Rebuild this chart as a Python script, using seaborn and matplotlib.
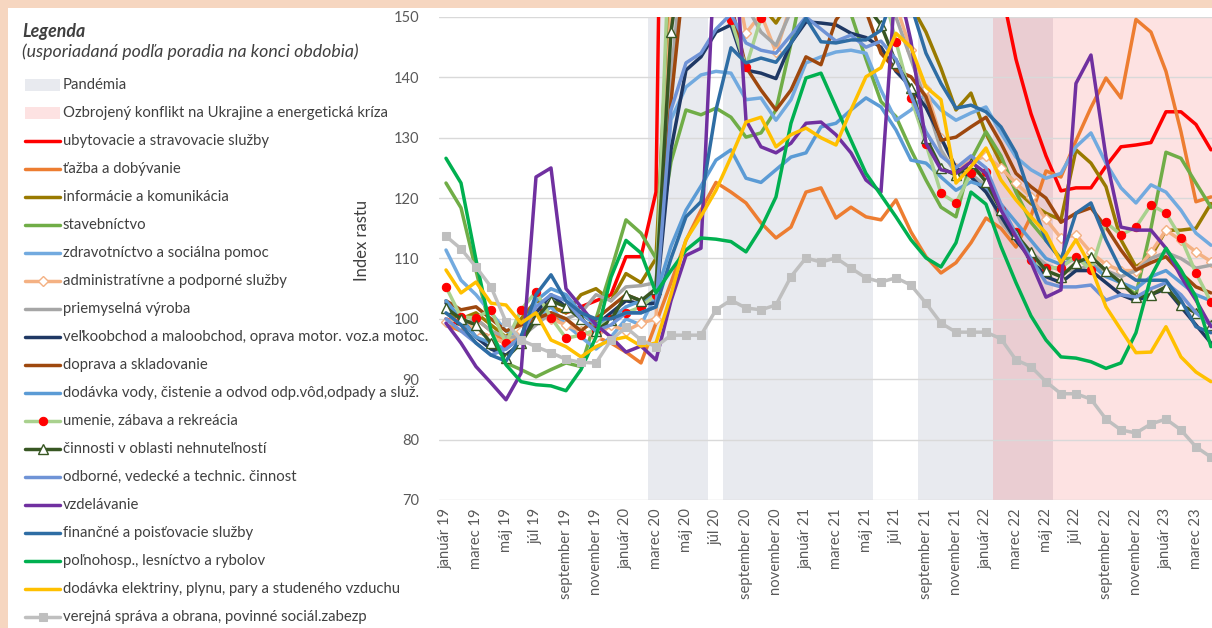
import matplotlib
matplotlib.use('Agg')
import matplotlib.pyplot as plt
import seaborn as sns
import numpy as np
import pandas as pd
from matplotlib.lines import Line2D
from matplotlib.patches import Rectangle

# data
month_names = ['január', 'február', 'marec', 'apríl', 'máj', 'jún', 'júl', 'august',
               'september', 'október', 'november', 'december']
years = ['19', '20', '21', '22', '23']
months = [month_names[i % 12] + ' ' + years[i // 12] for i in range(52)]

ubytovacie = [100, 99, 98, 97, 96, 97, 101, 102, 101, 102, 103, 104, 110.3, 110.3,
              121, 290, 280, 260, 230, 200, 190, 185, 200, 210, 220, 230, 220, 210, 200, 195, 190, 185, 180, 175, 180, 175,
              168, 155, 143, 134, 127, 121.2, 121.7, 121.7, 125.3, 128.5, 128.8, 129.2, 134.3, 134.3, 132.2, 128]
tazba = [99, 98, 100, 98, 96, 97, 100, 101, 99, 98, 97, 96, 94.5, 92.7,
         99.3, 106, 113, 118, 122.6, 121.0, 119.2, 115.9, 113.4, 115.2, 121.0, 121.7, 116.7, 118.5, 116.9, 116.4, 119.7, 114.4, 110.3, 107.6, 109.3, 112.6,
         116.7, 115.0, 111.9, 117, 124.5, 123.5, 129.5, 135, 139.9, 136.6, 149.6, 147.5, 141, 131, 119.4, 120.2]
informacie = [101, 100, 101, 99, 97, 100, 103, 102, 101, 104, 105, 103, 107.5, 106,
              110, 160, 175, 170, 165, 160, 155, 152, 149, 153, 165, 165, 162, 160, 158, 160, 158, 152, 147.5, 141.5, 134.6, 137.4,
              130.7, 125.8, 121.3, 119.1, 117.5, 116.4, 128, 125.8, 121.9, 113.1, 108.6, 110.3, 114.7, 114.7, 115, 119.1]
stavebnictvo = [122.5, 118.4, 108, 98, 92.7, 91.6, 90.4, 91.6, 92.7, 92.1, 100, 108, 116.4, 114.2,
                110, 126, 134.6, 133.8, 134.9, 133.4, 130.1, 130.8, 134.6, 145.6, 158, 160, 158, 150.5, 143, 136, 133.5, 128, 123, 118.5, 116.9, 126.3,
                131, 127, 121, 116, 113, 110, 110, 109, 108, 106, 104, 115, 127.6, 126.6, 122.5, 118.5]
zdravotnictvo = [111.4, 106.4, 104, 101, 98, 97, 100, 102, 99, 97, 95, 97, 100, 99,
                 104, 133, 138.4, 140.4, 141, 140.7, 136.3, 136.6, 132.9, 136.3, 142.4, 143.4, 144.2, 144.5, 144.0, 137.9, 132.9, 134.6, 137.4, 134.6, 132.9, 134.1,
                 135.1, 130.8, 126.8, 124.7, 123.3, 124.1, 128.5, 130.8, 125.8, 121.7, 119.2, 122.2, 121.0, 118.0, 114.2, 112.2]
administrativne = [99.5, 100, 98, 97, 96, 98, 101, 100, 99, 98, 97, 99, 98, 99.3,
                   100, 152, 170, 170, 165, 160, 147.3, 150.5, 144.2, 152, 160, 162, 160, 158, 156, 154, 152, 144.5, 138, 130, 125, 126,
                   127, 125.0, 122.5, 120.2, 116.5, 113.4, 113.9, 111, 109, 108, 108, 111, 114.7, 113, 111.1, 109.5]
priemyselna = [101, 99, 100, 98, 97, 97, 99, 101, 100, 101, 104, 103, 105.3, 105.5,
               106, 140, 165, 165, 160, 158, 152, 147.5, 145.3, 151, 160, 162, 160, 158, 160, 158, 150, 143, 136, 128, 124, 124,
               122, 116, 113, 111, 109, 108, 108, 109, 108, 107, 108, 110, 111, 110, 108.4, 108.9]
velkoobchod = [102.6, 100, 97, 95, 94, 96, 101, 104, 102, 101, 99, 101, 103, 102.5,
               102.6, 128, 141.2, 143.4, 147.5, 148.7, 141.2, 140.7, 139.8, 145.7, 149.2, 149, 148.7, 147.3, 146.6, 145.0, 141, 138.4, 135, 130, 125, 123.5,
               121, 117, 113, 110, 107, 106, 108, 108, 106, 104, 103, 104, 105, 102, 99, 96]
doprava = [103, 101.5, 102, 100, 98, 99, 100, 101, 100, 98, 100, 102, 104, 103,
           104, 136, 160, 165, 160, 152, 141.7, 137.9, 134.6, 137.9, 143.4, 142.1, 149.5, 153, 151, 144.0, 141.2, 140.1, 136.8, 129.6, 130.1, 131.8,
           133.4, 129.1, 124.1, 121.9, 120.0, 116.0, 117.5, 118.4, 115.2, 111.4, 108.1, 109.3, 110.3, 107.6, 105.3, 104.3]
dodavka_vody = [103, 100, 97, 96, 95, 97, 103, 105, 104, 101, 99, 100, 102, 103,
                104, 112, 118, 122, 126.3, 128, 123.3, 122.6, 124.7, 126.8, 127.5, 131.8, 132.4, 134.6, 136.6, 135.1, 131.3, 126.3, 125.8, 123.5, 121.3, 122.7,
                121.9, 119, 116, 113, 110, 109, 110, 109, 107, 106, 105, 107, 108, 106, 104, 103]
umenie = [105.3, 100.3, 100.2, 101.5, 96, 101.5, 104.5, 100.2, 96.8, 97.3, 98.2, 100, 101, 102,
          104, 170, 165, 160, 155, 149.5, 141.7, 149.8, 153, 160, 165, 165, 162, 160, 158, 156, 145.9, 136.6, 129, 120.8, 119.2, 124.1,
          124.3, 118, 114.4, 109.8, 108.4, 108.5, 110.3, 108.1, 116.0, 113.9, 115.2, 118.9, 117.5, 113.4, 107.6, 102.8]
cinnosti = [101.8, 100, 99.0, 96, 93.5, 96, 100, 103, 102, 100, 98, 99.8, 104.0, 103,
            105, 147.5, 165, 165, 162, 160, 158, 158, 160, 162, 165, 165, 162, 158, 152, 148.7, 142.4, 138.2, 130.0, 125.0, 123.8, 125.8,
            122.7, 118.0, 114, 111, 108, 107, 109.3, 110.3, 108, 106, 103.6, 104, 105.3, 102.3, 101, 99]
odborne = [100, 98, 96, 94, 95, 97, 102, 104, 103, 100, 98, 99, 101, 101,
           102, 134.6, 142.4, 144.0, 148, 150.5, 145.7, 144.5, 144.0, 147, 150, 148, 146, 147, 145, 146, 143, 137, 131, 127, 125, 127,
           125, 119, 114, 110, 106, 105.3, 105.3, 105.6, 103.1, 104, 103.6, 105, 106, 104, 101, 99]
vzdelavanie = [99.3, 96.0, 92.1, 89.4, 86.6, 91.0, 123.5, 125.0, 105, 102, 99, 97, 94.5, 95.5,
               93.2, 103, 110.5, 111.7, 165, 172, 132.9, 128.5, 127.5, 129.1, 132.4, 132.6, 130.5, 127.5, 123.0, 121.0, 157, 146, 129.1, 124.7, 124.1, 126.0,
               124.1, 118, 113.6, 109.4, 103.6, 104.8, 139.0, 143.7, 126.8, 115.2, 114.7, 114.7, 111.7, 107.0, 103.1, 98.7]
financne = [101, 99, 96, 94, 93, 97, 104, 107.3, 103, 101, 100, 100, 101, 101,
            102, 110, 116.9, 119.4, 134.6, 144.9, 142.4, 143.2, 142.5, 145.7, 149.8, 145.9, 145.7, 146.2, 146.2, 147.8, 155, 152, 144, 139, 134.9, 135.4,
            134.3, 131.8, 127.5, 120, 113, 109.8, 117.5, 119.2, 113.1, 108.1, 106.4, 106.4, 106.4, 103.1, 98.7, 97.7]
polnohosp = [126.6, 122.5, 109.8, 98, 92.4, 89.6, 89.1, 88.9, 88.1, 91.6, 97, 106.9, 113, 110.9,
             104.3, 108, 111.4, 113.4, 113.2, 112.8, 111.1, 115.0, 120.2, 132.4, 139.9, 140.7, 135.1, 129.6, 124.1, 120.5, 116.9, 113.1, 110.1, 108.6, 112.6, 121,
             119, 112, 106, 100.5, 96.5, 93.7, 93.5, 92.9, 91.8, 92.7, 97.7, 107.0, 111.7, 108.1, 103.6, 95.4]
elektrina = [108.1, 104.3, 106.1, 102.6, 102.3, 99.3, 101.0, 96.5, 95.4, 93.7, 95.4, 96.5, 97.0, 95.5,
             96, 104, 113.1, 117, 121.3, 126.8, 132.6, 133.4, 128.5, 130.5, 131.6, 130.0, 128.8, 134.6, 140.1, 141.6, 147.3, 145.0, 138.4, 136.3, 122.5, 125.2,
             128.3, 123.0, 119.7, 116.9, 114.2, 109.3, 113.1, 108.6, 102.0, 98.2, 94.4, 94.5, 98.7, 93.7, 91.2, 89.6]
verejna = [113.7, 111.6, 108.6, 105.3, 99.5, 96.5, 95.4, 94.4, 93.3, 92.8, 92.7, 96.5, 98.6, 96.5,
           95.4, 97.3, 97.3, 97.3, 101.5, 103.1, 101.8, 101.5, 102.3, 107.0, 110.1, 109.4, 110.1, 108.4, 106.8, 106.1, 106.8, 105.6, 102.6, 99.3, 97.8, 97.8,
           97.8, 96.7, 93.2, 92.1, 89.6, 87.6, 87.6, 86.7, 83.4, 81.6, 81.1, 82.6, 83.4, 81.6, 78.8, 77.1]

# periods as month indices (first, last)
pandemia = [(14, 17), (19, 28), (32, 40)]
konflikt = (37, 51)

df = pd.DataFrame({
    'ubytovacie a stravovacie služby': ubytovacie,
    'ťažba a dobývanie': tazba,
    'informácie a komunikácia': informacie,
    'stavebníctvo': stavebnictvo,
    'zdravotníctvo a sociálna pomoc': zdravotnictvo,
    'administratívne a podporné služby': administrativne,
    'priemyselná výroba': priemyselna,
    'veľkoobchod a maloobchod, oprava motor. voz.a motoc.': velkoobchod,
    'doprava a skladovanie': doprava,
    'dodávka vody, čistenie a odvod odp.vôd,odpady a služ.': dodavka_vody,
    'umenie, zábava a rekreácia': umenie,
    'činnosti v oblasti nehnuteľností': cinnosti,
    'odborné, vedecké a technic. činnost': odborne,
    'vzdelávanie': vzdelavanie,
    'finančné a poisťovacie služby': financne,
    'poľnohosp., lesníctvo a rybolov': polnohosp,
    'dodávka elektriny, plynu, pary a studeného vzduchu': elektrina,
    'verejná správa a obrana, povinné sociál.zabezp': verejna,
})

colors = ['#FF0000', '#ED7D31', '#997A00', '#70AD47', '#72AADF', '#F4B183', '#A6A6A6', '#1F3864',
          '#9E480E', '#5B9BD5', '#A9D18E', '#385723', '#6F93D6', '#7030A0', '#2E6DA4', '#00B050',
          '#FFC000', '#BFBFBF']
markers = {
    'administratívne a podporné služby': dict(marker='D', ms=5, mfc='white', mec='#F4B183', mew=1),
    'umenie, zábava a rekreácia': dict(marker='o', ms=6, mfc='#FF0000', mec='#FF0000'),
    'činnosti v oblasti nehnuteľností': dict(marker='^', ms=7, mfc='white', mec='#385723', mew=1),
    'verejná správa a obrana, povinné sociál.zabezp': dict(marker='s', ms=6, mfc='#BFBFBF', mec='#BFBFBF'),
}

W, H = 1212, 628
sns.set_style('white')
plt.rcParams['font.family'] = ['Lato', 'DejaVu Sans']

fig = plt.figure(figsize=(W / 100, H / 100), dpi=100, facecolor='#F6D6C0')
fig.add_artist(Rectangle((8 / W, 0), 1, (H - 8) / H, transform=fig.transFigure,
                         facecolor='white', edgecolor='none', zorder=-1))
ax = fig.add_axes([438.5 / W, 1 - 500 / H, (W - 438.5) / W, 483 / H])

c_pand = '#E8EAEF'
c_konf = '#FDE2E2'
c_both = '#EACDD2'
ax.axvspan(konflikt[0] - 0.5, konflikt[1] + 0.5, color=c_konf, lw=0, zorder=0.1)
for a, b in pandemia:
    ax.axvspan(a - 0.5, b + 0.5, color=c_pand, lw=0, zorder=0.2)
    lo, hi = max(a, konflikt[0]), min(b, konflikt[1])
    if lo <= hi:
        ax.axvspan(lo - 0.5, hi + 0.5, color=c_both, lw=0, zorder=0.3)

x = np.arange(len(months))
lines = []
for name, col in zip(df.columns, colors):
    kw = markers.get(name, {})
    sns.lineplot(x=x, y=df[name].values, ax=ax, color=col, lw=2.5, legend=False, zorder=3, **kw)
    lines.append(ax.get_lines()[-1])

ax.set_xlim(-0.5, 51.07)
ax.set_ylim(70, 150)
ax.set_yticks(range(70, 151, 10))
ax.set_xticks(x[::2])
ax.set_xticklabels(months[::2], rotation=90)
ax.tick_params(axis='x', length=0, pad=6, labelsize=10.6, labelcolor='#595959')
ax.tick_params(axis='y', length=0, pad=14, labelsize=10.5, labelcolor='#595959')
ax.set_axisbelow(True)
ax.yaxis.grid(True, color='#D9D9D9', lw=1, zorder=0.5)
ax.xaxis.grid(False)
for s in ax.spines.values():
    s.set_visible(False)
ax.set_facecolor('white')
ax.set_xlabel('')
ax.set_ylabel('')
fig.text(362 / W, 1 - 240 / H, 'Index rastu', rotation=90, ha='center', va='center',
         fontsize=12, color='#404040')

# legend drawn at the left
fig.text(22 / W, 1 - 32 / H, 'Legenda', fontsize=12.8, fontweight='bold', fontstyle='italic',
         color='#404040', va='center')
fig.text(22 / W, 1 - 52 / H, '(usporiadaná podľa poradia na konci obdobia)', fontsize=12.8,
         fontstyle='italic', color='#404040', va='center')
leg_items = [('Pandémia', c_pand, None), ('Ozbrojený konflikt na Ukrajine a energetická kríza', c_konf, None)]
leg_items += [(name, None, ln) for name, ln in zip(df.columns, lines)]
for k, (label, patch_col, ln) in enumerate(leg_items):
    yf = 1 - (85 + 28 * k) / H
    if ln is None:
        fig.add_artist(Rectangle((25 / W, yf - 6 / H), 35 / W, 12 / H, transform=fig.transFigure,
                                 facecolor=patch_col, edgecolor='none'))
    else:
        h = Line2D([25 / W, 42.5 / W, 60 / W], [yf] * 3, transform=fig.transFigure,
                   color=ln.get_color(), lw=2.5, marker=ln.get_marker(), markevery=[1],
                   ms=ln.get_markersize(), mfc=ln.get_markerfacecolor(), mec=ln.get_markeredgecolor(),
                   mew=ln.get_markeredgewidth())
        fig.add_artist(h)
    fig.text(63 / W, yf, label, fontsize=10.7, color='#404040', va='center', ha='left')

fig.savefig('out.png', dpi=100, facecolor=fig.get_facecolor())
